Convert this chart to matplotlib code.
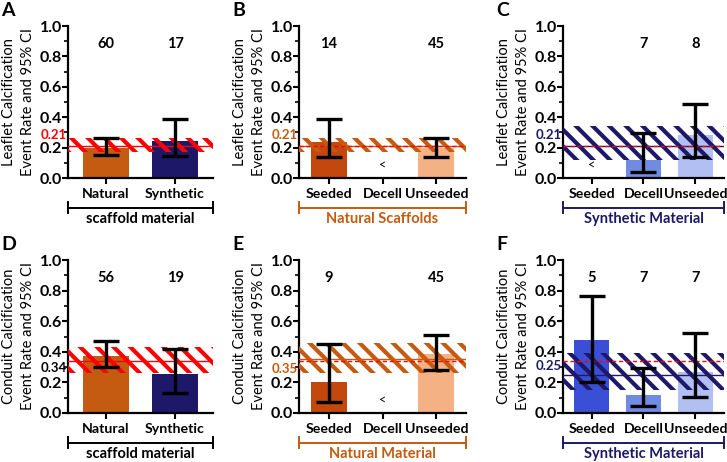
import matplotlib
matplotlib.use('Agg')
import matplotlib.pyplot as plt
from matplotlib.ticker import MultipleLocator

plt.rcParams['font.family'] = ['Lato', 'DejaVu Sans']
plt.rcParams['font.weight'] = 'bold'
plt.rcParams['hatch.linewidth'] = 3.0

ORANGE = '#C55A11'
NAVY = '#1E1868'
RED = '#FF0000'

# panel data
letters = ['A', 'B', 'C', 'D', 'E', 'F']
cats = [['Natural', 'Synthetic'],
        ['Seeded', 'Decell', 'Unseeded'],
        ['Seeded', 'Decell', 'Unseeded'],
        ['Natural', 'Synthetic'],
        ['Seeded', 'Decell', 'Unseeded'],
        ['Seeded', 'Decell', 'Unseeded']]
rates = [[0.20, 0.245],
         [0.24, None, 0.20],
         [None, 0.12, 0.285],
         [0.37, 0.255],
         [0.20, None, 0.385],
         [0.48, 0.12, 0.265]]
ci_low = [[0.15, 0.145],
          [0.135, None, 0.14],
          [None, 0.04, 0.14],
          [0.30, 0.13],
          [0.075, None, 0.28],
          [0.205, 0.045, 0.105]]
ci_high = [[0.265, 0.39],
           [0.39, None, 0.265],
           [None, 0.295, 0.49],
           [0.47, 0.42],
           [0.45, None, 0.51],
           [0.765, 0.295, 0.525]]
counts = [['60', '17'], ['14', '', '45'], ['', '7', '8'],
          ['56', '19'], ['9', '', '45'], ['5', '7', '7']]
pooled = [0.21, 0.21, 0.21, 0.34, 0.35, 0.25]
band_low = [0.17, 0.17, 0.12, 0.26, 0.26, 0.15]
band_high = [0.26, 0.26, 0.345, 0.43, 0.46, 0.39]
overall = [None, 0.21, 0.21, None, 0.34, 0.34]  # red dashed reference
pooled_label_y = [0.285, 0.285, 0.285, 0.295, 0.29, 0.31]
groups = ['scaffold material', 'Natural Scaffolds', 'Synthetic Material',
          'scaffold material', 'Natural Material', 'Synthetic Material']
ylabels = ['Leaflet Calcification\nEvent Rate and 95% CI'] * 3 + \
          ['Conduit Calcification\nEvent Rate and 95% CI'] * 3

bar_colors = [[ORANGE, NAVY],
              ['#C4470E', None, '#F4B183'],
              [None, '#6F8BE2', '#B2BFF2'],
              [ORANGE, NAVY],
              ['#C4470E', None, '#F4B183'],
              ['#3A4FD6', '#6F8BE2', '#B2BFF2']]
band_colors = [RED, ORANGE, NAVY, RED, ORANGE, NAVY]
line_colors = [RED, ORANGE, NAVY, RED, ORANGE, NAVY]
label_colors = [RED, ORANGE, NAVY, 'black', ORANGE, NAVY]
group_colors = ['black', ORANGE, NAVY, 'black', ORANGE, NAVY]

fig = plt.figure(figsize=(7.27, 4.62), dpi=100)
W, H = 727, 462
boxes = [(68, 213, 26, 178), (299, 466, 26, 178), (563, 724, 26, 178),
         (68, 213, 260, 413), (299, 466, 260, 413), (563, 724, 260, 413)]

for i in range(6):
    x0, x1, yt, yb = boxes[i]
    ax = fig.add_axes([x0 / W, 1 - yb / H, (x1 - x0) / W, (yb - yt) / H])
    n = len(cats[i])
    xs = list(range(n))
    ax.set_xlim(-0.55, n - 0.45)
    ax.set_ylim(0, 1.0)

    for j in xs:
        if rates[i][j] is None:
            ax.text(j, 0.09, '<', ha='center', va='center', fontsize=9,
                    fontweight='normal')
            continue
        ax.bar(j, rates[i][j], width=0.67, color=bar_colors[i][j], zorder=1)
        ax.errorbar(j, rates[i][j],
                    yerr=[[rates[i][j] - ci_low[i][j]], [ci_high[i][j] - rates[i][j]]],
                    fmt='none', ecolor='black', elinewidth=2.4, capsize=9.5,
                    capthick=2.4, zorder=4)
        ax.text(j, 0.88, counts[i][j], ha='center', va='center', fontsize=10.5)

    # pooled estimate band
    ax.fill_between([-0.55, n - 0.45], band_low[i], band_high[i],
                    facecolor='none', edgecolor=band_colors[i], hatch='\\\\',
                    linewidth=0, zorder=3)
    ax.axhline(pooled[i], color=line_colors[i], lw=1.0, zorder=3)
    if overall[i] is not None:
        ax.axhline(overall[i], color=RED, lw=1.0, ls=(0, (3, 2)), zorder=3)
    ax.text(-0.01, pooled_label_y[i], f'{pooled[i]:.2f}', transform=ax.get_yaxis_transform(),
            ha='right', va='center', fontsize=9.5, color=label_colors[i])

    ax.spines['top'].set_visible(False)
    ax.spines['right'].set_visible(False)
    ax.spines['left'].set_linewidth(1.6)
    ax.spines['bottom'].set_linewidth(1.6)
    ax.yaxis.set_minor_locator(MultipleLocator(0.1))
    ax.set_yticks([0.0, 0.2, 0.4, 0.6, 0.8, 1.0])
    ax.set_yticklabels(['0.0', '0.2', '0.4', '0.6', '0.8', '1.0'], fontsize=11.5)
    ax.tick_params(axis='y', which='major', length=4, width=1.5, pad=0.5)
    ax.tick_params(axis='y', which='minor', length=3, width=1.2)
    ax.set_xticks(xs)
    ax.set_xticklabels(cats[i], fontsize=10.2)
    ax.tick_params(axis='x', length=4, width=1.5, pad=3)
    ax.set_ylabel(ylabels[i], fontsize=10.5, labelpad=3, linespacing=1.5)

    # group bracket
    gc = group_colors[i]
    by = -0.195
    ax.plot([0, 1], [by, by], color=gc, lw=1.4, transform=ax.transAxes, clip_on=False)
    for ex in (0, 1):
        ax.plot([ex, ex], [by - 0.035, by + 0.035], color=gc, lw=1.4,
                transform=ax.transAxes, clip_on=False)
    ax.text(0.5, by - 0.075, groups[i], transform=ax.transAxes, ha='center',
            va='center', fontsize=10.5, color=gc)

    fig.text((x0 - 67) / W, 1 - 10 / H - (yt - 26) / H, letters[i], fontsize=14,
             ha='left', va='center')

fig.savefig('out.png', dpi=100)
